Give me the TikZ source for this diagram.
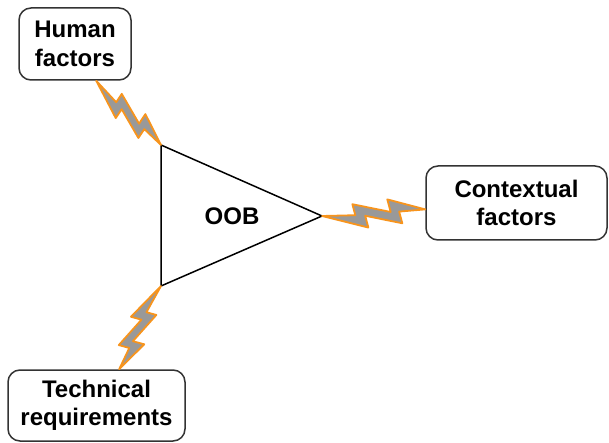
\documentclass[tikz,border=0pt]{standalone}
\usepackage{fontspec}
\setmainfont{Liberation Sans}
\usetikzlibrary{calc}

\definecolor{boltfill}{HTML}{999999}
\definecolor{boltedge}{HTML}{F7941D}
\definecolor{boxedge}{HTML}{333333}

\tikzset{
  labelfont/.style={font=\fontsize{24}{28.5}\selectfont\bfseries},
  factorbox/.style={draw=boxedge, line width=1.5pt, rounded corners=12pt, fill=white,
    align=center, inner sep=0pt, labelfont},
  boltshape/.style={fill=boltfill, draw=boltedge, line width=1.8pt, line join=round},
  oobtri/.style={draw=black, line width=1.5pt, line join=miter}
}

% Lightning bolt from #1 to #2: a zig-zag band with two teeth on each side,
% given in the frame of the segment (u along it, v to its left).
\newcommand\bolt[2]{%
  \path[boltshape] let \p1=(#1), \p2=($(#2)-(#1)$) in
    (\p1)
    -- ({\x1+0.44*\x2+0.14*\y2},{\y1+0.44*\y2-0.14*\x2})
    -- ({\x1+0.417*\x2+0.0247*\y2},{\y1+0.417*\y2-0.0247*\x2})
    -- ({\x1+0.77*\x2+0.12*\y2},{\y1+0.77*\y2-0.12*\x2})
    -- ({\x1+0.747*\x2+0.0053*\y2},{\y1+0.747*\y2-0.0053*\x2})
    -- (#2)
    -- ({\x1+0.64*\x2-0.12*\y2},{\y1+0.64*\y2+0.12*\x2})
    -- ({\x1+0.6647*\x2+0.0035*\y2},{\y1+0.6647*\y2-0.0035*\x2})
    -- ({\x1+0.30*\x2-0.095*\y2},{\y1+0.30*\y2+0.095*\x2})
    -- ({\x1+0.3216*\x2+0.013*\y2},{\y1+0.3216*\y2-0.013*\x2})
    -- cycle;}

\begin{document}
\begin{tikzpicture}[x=1pt,y=-1pt]
  \useasboundingbox (0,0) rectangle (609,443);
  \clip (0,0) rectangle (609,443);

  % the three factor boxes
  \node[factorbox, minimum width=112pt, minimum height=72pt] (hf) at (75,44)
    {Human\\factors};
  \node[factorbox, minimum width=181pt, minimum height=74pt] (cf) at (516.5,203)
    {Contextual\\factors};
  \node[factorbox, minimum width=177pt, minimum height=71pt] (tr) at (96.5,405.5)
    {Technical\\requirements};

  % the OOB triangle
  \coordinate (tTop) at (161,145);
  \coordinate (tBot) at (161,286);
  \coordinate (tTip) at (322,216);
  \draw[oobtri] (tTop) -- (tTip) -- (tBot) -- cycle;
  \node[labelfont] (oob) at (232,216) {OOB};

  % lightning connectors
  \coordinate (hfEnd) at (hf.-60);
  \coordinate (cfEnd) at (cf.184);
  \coordinate (trEnd) at (tr.58);
  \bolt{hfEnd}{tTop}
  \bolt{tTip}{cfEnd}
  \bolt{tBot}{trEnd}
\end{tikzpicture}
\end{document}
